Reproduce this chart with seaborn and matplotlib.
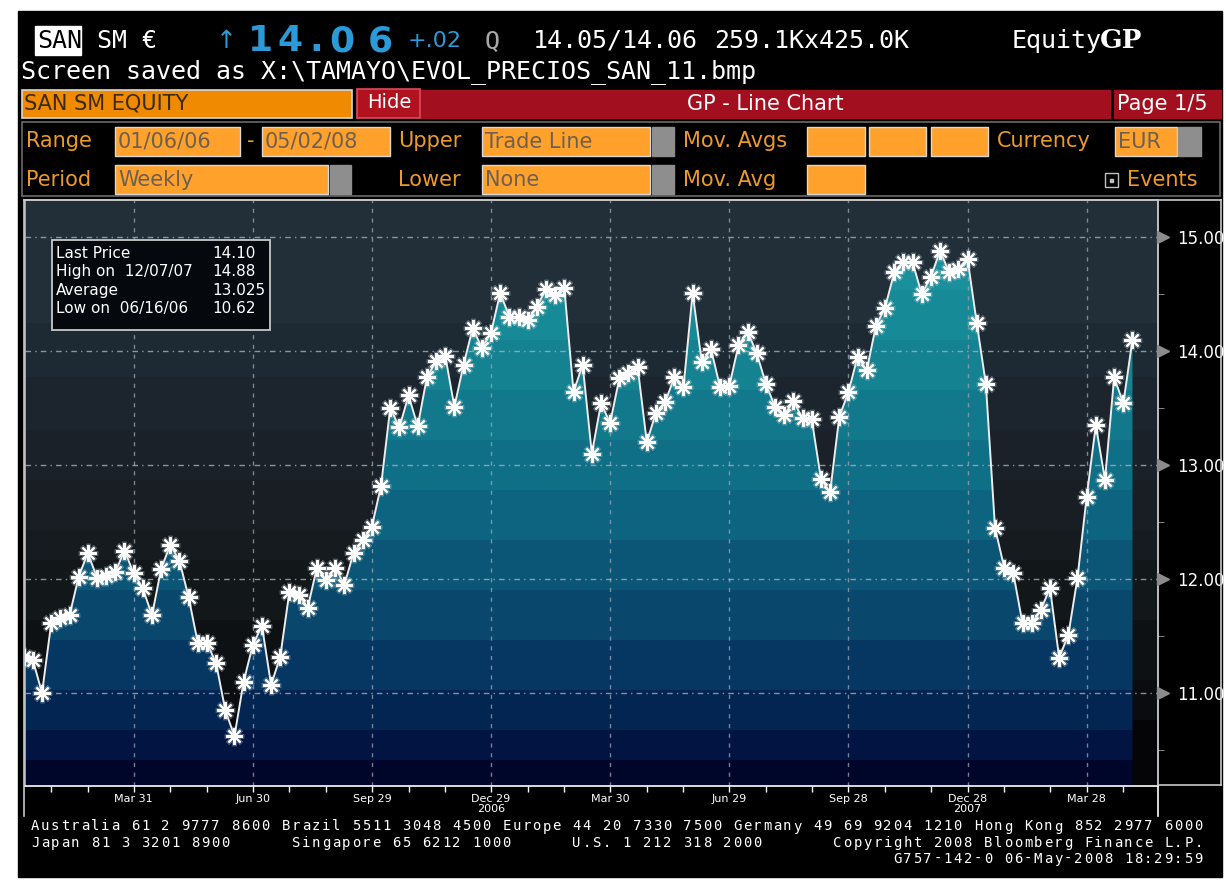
import numpy as np
import pandas as pd
import matplotlib
matplotlib.use("Agg")
import matplotlib.pyplot as plt
import matplotlib.dates as mdates
import matplotlib.transforms as mtransforms
from matplotlib.patches import Rectangle, Polygon
from matplotlib.lines import Line2D
from matplotlib.colors import to_rgb
import seaborn as sns

# weekly closes, SAN SM equity (Fridays, 06 Jan 2006 - 02 May 2008)
start_date = "2006-01-06"
end_date = "2008-05-02"
prices = [
    11.32, 11.29, 11.00, 11.61, 11.66, 11.68, 12.02, 12.23, 12.01, 12.03,
    12.06, 12.25, 12.05, 11.92, 11.68, 12.09, 12.30, 12.16, 11.84, 11.44,
    11.44, 11.26, 10.85, 10.62, 11.10, 11.42, 11.59, 11.07, 11.32, 11.89,
    11.86, 11.75, 12.10, 11.99, 12.10, 11.95, 12.23, 12.34, 12.46, 12.82,
    13.50, 13.33, 13.61, 13.34, 13.77, 13.91, 13.96, 13.51, 13.88, 14.20,
    14.03, 14.16, 14.51, 14.30, 14.30, 14.27, 14.39, 14.54, 14.49, 14.55,
    13.64, 13.88, 13.10, 13.54, 13.37, 13.76, 13.81, 13.86, 13.20, 13.46,
    13.55, 13.77, 13.68, 14.51, 13.90, 14.02, 13.68, 13.69, 14.05, 14.17,
    13.98, 13.71, 13.51, 13.44, 13.56, 13.41, 13.40, 12.88, 12.76, 13.42,
    13.64, 13.95, 13.83, 14.22, 14.38, 14.69, 14.78, 14.78, 14.50, 14.65,
    14.88, 14.69, 14.72, 14.81, 14.25, 13.71, 12.45, 12.10, 12.05, 11.61,
    11.61, 11.73, 11.92, 11.31, 11.51, 12.01, 12.72, 13.35, 12.87, 13.77,
    13.54, 14.10,
]
y_ticks = [11, 12, 13, 14, 15]
quarter_labels = ["Mar 31", "Jun 30", "Sep 29", "Dec 29", "Mar 30",
                  "Jun 29", "Sep 28", "Dec 28", "Mar 28"]
year_labels = ["2006", "2007"]
year_dates = ["2006-12-29", "2007-12-28"]
stat_names = ["Last Price", "High on  12/07/07", "Average", "Low on  06/16/06"]
stat_values = ["14.10", "14.88", "13.025", "10.62"]

dates = pd.date_range(start_date, end_date, freq="W-FRI")
df = pd.DataFrame({"date": dates, "price": prices})

# last friday of every month -> x ticks, quarter ends get a label
s = pd.Series(dates)
month_ends = s.groupby([s.dt.year, s.dt.month]).max().tolist()[:-1]
quarter_ends = [d for d in month_ends if d.month in (3, 6, 9, 12)]
tick_text = []
qi = 0
for d in month_ends:
    if d.month in (3, 6, 9, 12):
        tick_text.append(quarter_labels[qi])
        qi += 1
    else:
        tick_text.append("")

W, H = 1226, 883
def fx(x): return x / W
def fy(y): return 1 - y / H

fig = plt.figure(figsize=(12.26, 8.83), dpi=100)
fig.patch.set_facecolor("white")

def box(x0, y0, x1, y1, fc, ec=None, lw=1.0, z=2):
    fig.add_artist(Rectangle((fx(x0), fy(y1)), fx(x1) - fx(x0), fy(y0) - fy(y1),
                             transform=fig.transFigure, facecolor=fc,
                             edgecolor=ec if ec else fc, linewidth=lw, zorder=z))

def txt(x, y, s, color="white", size=15, ha="left", family="DejaVu Sans", weight="normal", z=4):
    fig.text(fx(x), fy(y), s, color=color, fontsize=size, ha=ha, va="center",
             family=family, fontweight=weight, zorder=z)

def grid_txt(x0, y, s, pitch, size, family="DejaVu Sans Mono"):
    # terminal style fixed-pitch text, one character per cell
    for i, ch in enumerate(s):
        if ch != " ":
            txt(x0 + (i + 0.5) * pitch, y, ch, size=size, ha="center", family=family)

def fline(xs, ys, color="#c8c8c8", lw=1.2):
    fig.add_artist(Line2D([fx(v) for v in xs], [fy(v) for v in ys],
                          transform=fig.transFigure, color=color, lw=lw, zorder=6))

# black terminal panel
box(18, 11, 1222, 877, "black", z=-10)

# ---- header line 1
mono = "DejaVu Sans Mono"
box(35, 26, 81, 55, "white", z=3)
txt(37, 41, "SAN", color="black", size=18, family=mono)
txt(97, 41, "SM €", size=18, family=mono)
blue = "#2b9ad8"
txt(216, 41, "↑", color=blue, size=18)
for ch, cx in zip("14.06", [260, 290, 316, 342, 380]):
    txt(cx, 41, ch, color=blue, size=26, ha="center", weight="bold")
txt(408, 41, "+.02", color=blue, size=16)
txt(485, 41, "Q", color="#a8a8a8", size=18, family=mono)
txt(533, 41, "14.05/14.06", size=18, family=mono)
txt(714, 41, "259.1Kx425.0K", size=18, family=mono)
txt(1012, 41, "Equity", size=18, family=mono)
txt(1100, 40, "GP", size=19, family="DejaVu Serif", weight="bold")

# ---- header line 2
txt(21, 72, r"Screen saved as X:\TAMAYO\EVOL_PRECIOS_SAN_11.bmp", size=18, family=mono)

# ---- row 3
red = "#a2101f"
box(22, 90, 352, 118, "#f08a00", ec="#d8d8d8", lw=1.2)
txt(24, 104, "SAN SM EQUITY", color="#3c2a12", size=15)
box(420, 90, 1110, 118, red)
box(357, 89, 420, 118, "#b0131f", ec="#e04a5a", lw=1.2, z=3)
txt(389, 102, "Hide", size=14, ha="center")
txt(765, 104, "GP - Line Chart", size=15, ha="center")
box(1114, 90, 1221, 118, red)
txt(1117, 104, "Page 1/5", size=15)

# ---- rows 4 / 5
orange_txt = "#ee9a2a"
box_fc = "#ffa12b"
box_txt = "#6e6050"
box(22, 122, 1220, 196, "black", ec="#6a6a6a", lw=1.2)

def field(x0, x1, y0, y1, label=""):
    box(x0, y0, x1, y1, box_fc, ec="#d8d8d8", lw=1.0, z=3)
    if label:
        txt(x0 + 3, (y0 + y1) / 2, label, color=box_txt, size=15)

def scroll(x0, x1, y0, y1):
    box(x0, y0, x1, y1, "#8e8e8e", z=3)

r4 = (127, 156)
txt(26, 141, "Range", color=orange_txt, size=15)
field(115, 240, *r4, label="01/06/06")
txt(247, 141, "-", color=orange_txt, size=15)
field(262, 390, *r4, label="05/02/08")
txt(398, 141, "Upper", color=orange_txt, size=15)
field(482, 650, *r4, label="Trade Line")
scroll(652, 674, *r4)
txt(683, 141, "Mov. Avgs", color=orange_txt, size=15)
field(807, 865, *r4)
field(869, 926, *r4)
field(931, 988, *r4)
txt(997, 141, "Currency", color=orange_txt, size=15)
field(1115, 1177, *r4, label="EUR")
scroll(1178, 1201, *r4)

r5 = (165, 194)
txt(26, 180, "Period", color=orange_txt, size=15)
field(115, 328, *r5, label="Weekly")
scroll(330, 351, *r5)
txt(398, 180, "Lower", color=orange_txt, size=15)
field(482, 650, *r5, label="None")
scroll(652, 674, *r5)
txt(683, 180, "Mov. Avg", color=orange_txt, size=15)
field(807, 865, *r5)
box(1105, 173, 1118, 187, "black", ec="#c0c0c0", lw=1.0, z=3)
box(1110, 179, 1113, 182, "#c0c0c0", z=4)
txt(1127, 180, "Events", color=orange_txt, size=15)

# ---- chart
ax = fig.add_axes([fx(25), fy(786), fx(1158) - fx(25), fy(200) - fy(786)])
y_lo, y_hi = 11 - (786 - 693) / 114, 15 + (237 - 200) / 114

# glow under the asterisks, then the trade line with markers
ax.plot(df["date"], df["price"], ls="none", marker=(8, 2, 0), ms=14,
        mec="#c8d4de", mew=3.2, alpha=0.35, zorder=5)
sns.lineplot(data=df, x="date", y="price", ax=ax, color="#ececec", lw=1.4,
             marker=(8, 2, 0), markersize=12, markeredgecolor="white",
             markeredgewidth=1.5, zorder=6)

x_lo = dates[0] + pd.Timedelta(days=1)
x_hi = dates[-1] + pd.Timedelta(days=19.5)
xl0, xl1 = mdates.date2num(x_lo), mdates.date2num(x_hi)


def band_image(tops, colors):
    rows = np.arange(785.5, 200, -1.0)
    img = np.zeros((len(rows), 1, 3))
    for i, r in enumerate(rows):
        for top, c in zip(tops, colors):
            if r >= top:
                img[i, 0] = to_rgb(c)
                break
    return img

bg_img = band_image([720, 680, 620, 560, 530, 480, 430, 377, 323, 0],
                    ["#050507", "#0a0c10", "#0e1114", "#121719", "#151b1f",
                     "#181e24", "#1a2129", "#1c252d", "#1e2a33", "#222e38"])
fill_img = band_image([760, 730, 690, 640, 590, 540, 490, 440, 390, 340, 290, 0],
                      ["#00062a", "#011442", "#032552", "#063662", "#09476c",
                       "#0b5676", "#0d6480", "#0f6f87", "#12798c", "#148290",
                       "#168a97", "#1a909c"])
ax.imshow(bg_img, extent=(xl0, xl1, y_lo, y_hi), origin="lower", aspect="auto",
          interpolation="nearest", zorder=0)
fill = ax.imshow(fill_img, extent=(xl0, xl1, y_lo, y_hi), origin="lower",
                 aspect="auto", interpolation="nearest", zorder=1)
xn = mdates.date2num(dates)
clip = Polygon(np.column_stack([np.r_[xn, xn[-1], xn[0]],
                                np.r_[prices, y_lo, y_lo]]),
               closed=True, transform=ax.transData)
fill.set_clip_path(clip)

for d in quarter_ends:
    ax.axvline(d, color="#9aa6b2", lw=1.0, ls=(0, (3, 4)), alpha=0.75, zorder=2)
for v in y_ticks:
    ax.axhline(v, color="#a8b0b8", lw=1.0, ls=(0, (4, 3, 1, 3)), alpha=0.8, zorder=2)

ax.set_xlabel("")
ax.set_ylabel("")

# x axis: monthly ticks, quarter labels
ax.set_xticks(month_ends)
ax.set_xticklabels(tick_text)
ax.tick_params(axis="x", direction="out", length=4, width=1, colors="white",
               labelsize=8, pad=2)
trans_x = mtransforms.blended_transform_factory(ax.transData, ax.transAxes)
for lab, d in zip(year_labels, year_dates):
    ax.text(pd.Timestamp(d), -0.039, lab, transform=trans_x, ha="center",
            va="center", color="white", fontsize=8)

# right price axis
ax.yaxis.tick_right()
ax.set_yticks(y_ticks)
ax.set_yticklabels([f"{v:.2f}" for v in y_ticks])
ax.set_yticks(np.arange(10.5, 15.0, 1.0), minor=True)
ax.tick_params(axis="y", which="major", length=0, pad=14, labelcolor="white",
               labelsize=12)
ax.tick_params(axis="y", which="minor", length=4, color="#9a9a9a", direction="out")

trans_y = mtransforms.blended_transform_factory(ax.transAxes, ax.transData)
ax.plot([1.0 + 5 / 1133] * len(y_ticks), y_ticks, ls="none", marker=">", ms=8,
        color="#8c8c8c", transform=trans_y, clip_on=False, zorder=7)
ax.set_xlim(x_lo, x_hi)
ax.set_ylim(y_lo, y_hi)

for side in ["top", "left"]:
    ax.spines[side].set_color("#b8b8b8")
ax.spines["right"].set_color("#dcdcdc")
ax.spines["bottom"].set_color("white")
for sp in ax.spines.values():
    sp.set_linewidth(1.2)

# frames around chart, axis strip and price scale
fline([24, 1221], [200, 200])
fline([24, 24], [200, 816])
fline([1158, 1158], [786, 816], color="white")
fline([1221, 1221], [200, 785])
fline([1158, 1221], [785, 785])

# stats box
box(52, 240, 270, 330, "#05090d", ec="#c8c8c8", lw=1.3, z=7)
for i, (n, v) in enumerate(zip(stat_names, stat_values)):
    yy = 253 + i * 18.6
    txt(56, yy, n, size=11, z=8)
    txt(212, yy, v, size=11, z=8)

# footer (fixed pitch terminal text)
foot1 = ("Australia 61 2 9777 8600 Brazil 5511 3048 4500 Europe 44 20 7330 7500 "
         "Germany 49 69 9204 1210 Hong Kong 852 2977 6000")
foot2 = ("Japan 81 3 3201 8900".ljust(26) + "Singapore 65 6212 1000".ljust(28)
         + "U.S. 1 212 318 2000".ljust(26) + "Copyright 2008 Bloomberg Finance L.P.")
foot3 = " " * 86 + "G757-142-0 06-May-2008 18:29:59"
pitch = 10.03
grid_txt(30, 826.5, foot1, pitch, 10)
grid_txt(30, 842.8, foot2, pitch, 10)
grid_txt(30, 859.1, foot3, pitch, 10)

fig.savefig("out.png", dpi=100, facecolor=fig.get_facecolor())
